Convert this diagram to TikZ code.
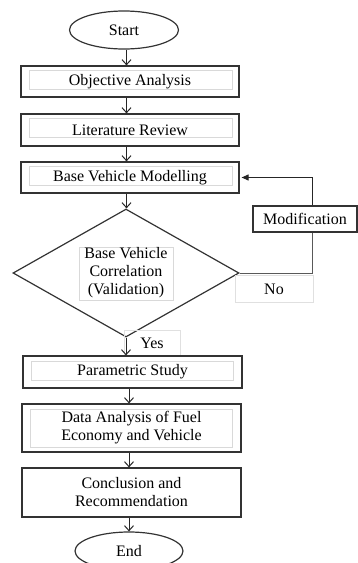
\documentclass[tikz,border=0pt]{standalone}
\usepackage{fontspec}
\setmainfont{Liberation Serif}
\usepackage{tikz}
\usetikzlibrary{shapes.geometric}
\usetikzlibrary{arrows.meta}

\begin{document}
\begin{tikzpicture}[
	x=1pt, y=-1pt,
	line width=1.2pt,
	font=\fontsize{16}{18}\selectfont
]
\tikzset{
    term/.style = {ellipse, draw=black!80, minimum width=109pt, minimum height=38pt, inner sep=0pt},
    procbox/.style = {rectangle, draw=black!80, minimum width=218pt, minimum height=31pt, inner sep=0pt, align=center},
    decision/.style = {diamond, draw=black!80, aspect=1.77, minimum width=226pt, minimum height=128pt, inner sep=0pt, align=center},
    faintbox/.style = {rectangle, draw=black!12, line width=0.6pt, inner sep=0pt},
    inframe/.style n args = {4}{path picture={\draw[black!15,line width=0.6pt] ([xshift=#1pt,yshift=-#2pt]path picture bounding box.north west) rectangle ([xshift=-#3pt,yshift=#4pt]path picture bounding box.south east);}},
    flow/.style = {-{Straight Barb[length=5pt,width=9pt]}, black!85, line width=1pt},
    back/.style = {black!65, line width=1pt},
    backarrow/.style = {-{Triangle[length=7pt,width=6pt]}, black!85, line width=1pt},
}
\useasboundingbox (0,0) rectangle (358,563);
\coordinate (ax) at (126.5,0);
\coordinate (fb) at (312,273);
%
\node[term] at (124,30) (start) {Start};
\node[procbox, inframe={8}{4}{7}{8}] at (130,81.5) (obj) {Objective Analysis};
\node[procbox, minimum height=32pt, inframe={8}{4}{7}{9}] at (130,130) (lit) {Literature Review};
\node[procbox, inframe={8}{4}{7}{8}] at (130,177.5) (base) {Base Vehicle Modelling};
\node[decision, inframe={66}{38}{65}{36}] at (126,273) (dec) {Base Vehicle\\Correlation\\(Validation)};
\node[rectangle, draw=black!80, minimum width=104pt, minimum height=26pt, inner sep=0pt] at (305,219) (mod) {Modification};
\node[faintbox, minimum width=78pt, minimum height=27pt] at (274,289) (no) {No};
\node[faintbox, minimum width=56pt, minimum height=26pt] at (152,343) (yes) {Yes};
\node[procbox, minimum width=219pt, minimum height=32pt, inframe={8}{5}{9}{8}] at (132.5,372) (param) {Parametric Study};
\node[procbox, minimum width=219pt, minimum height=48pt, inframe={8}{5}{9}{5}] at (131.5,428) (data) {Data Analysis of Fuel\\Economy and Vehicle};
\node[procbox, minimum width=219pt, minimum height=49pt] at (131.5,492.5) (concl) {Conclusion and\\Recommendation};
\node[term, minimum width=108pt] at (129,551) (end) {End};
%
\draw[flow] (start.south -| ax) -- (obj.north -| ax);
\draw[flow] (obj.south -| ax) -- (lit.north -| ax);
\draw[flow] (lit.south -| ax) -- (base.north -| ax);
\draw[flow] (base.south -| ax) -- (dec.north -| ax);
\draw[flow] (dec.south) -- (dec.south |- param.north);
\draw[flow] (param.south -| end) -- (data.north -| end);
\draw[flow] (data.south -| end) -- (concl.north -| end);
\draw[flow] (concl.south -| end) -- (end.north);
%
\draw[back] (dec.east) -- (fb) -- (fb |- mod.south);
\draw[backarrow] (fb |- mod.north) |- ([xshift=2pt]base.east);
\end{tikzpicture}
\end{document}
